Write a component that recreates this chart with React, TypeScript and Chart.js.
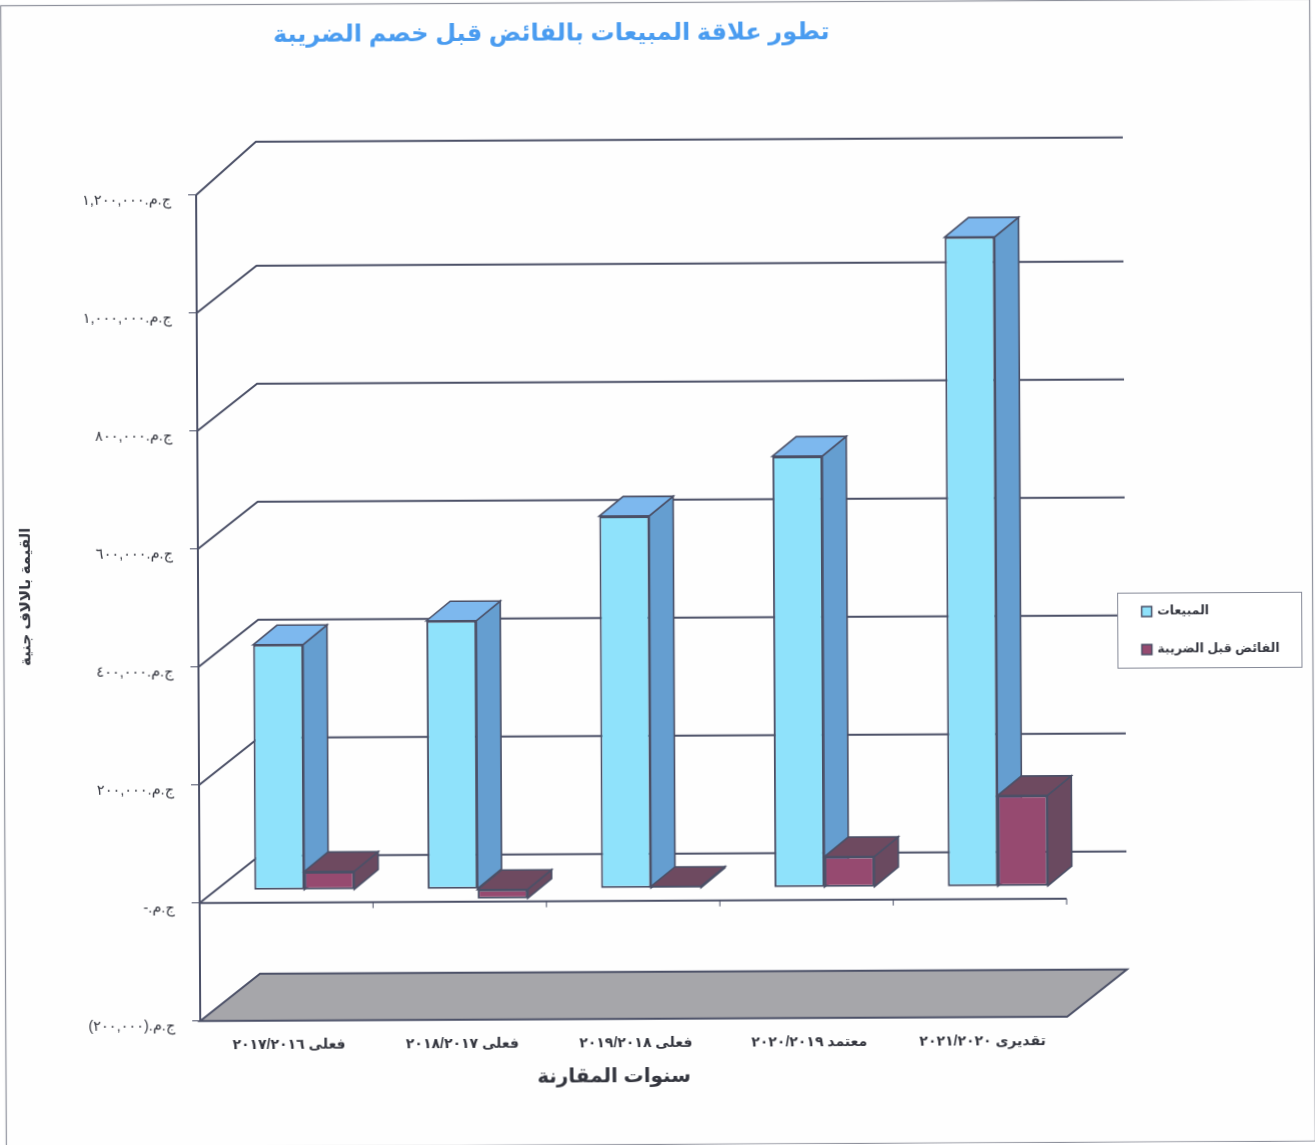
import React, { useEffect, useRef } from "react";
import { Chart, registerables } from "chart.js";

Chart.register(...registerables);

const categories = ["فعلى ٢٠١٧/٢٠١٦", "فعلى ٢٠١٨/٢٠١٧", "فعلى ٢٠١٩/٢٠١٨", "معتمد ٢٠٢٠/٢٠١٩", "تقديرى ٢٠٢١/٢٠٢٠"];
const salesValues = [416000, 455000, 631000, 731000, 1101000];
const surplusValues = [31000, -16000, 3000, 52000, 154000];
const yTickLabels = ["ج.م.(٢٠٠,٠٠٠)", "ج.م.-", "ج.م.٢٠٠,٠٠٠", "ج.م.٤٠٠,٠٠٠", "ج.م.٦٠٠,٠٠٠", "ج.م.٨٠٠,٠٠٠", "ج.م.١,٠٠٠,٠٠٠", "ج.م.١,٢٠٠,٠٠٠"];
const titleText = "تطور علاقة المبيعات بالفائض قبل خصم الضريبة";
const xTitleText = "سنوات المقارنة";
const yTitleText = "القيمة بالالاف جنية";
const salesLabel = "المبيعات";
const surplusLabel = "الفائض قبل الضريبة";

const FONT = "'Liberation Sans', 'DejaVu Sans', sans-serif";
const INK = "#34363f";
const LINE = "#4b5067";
const WALL_DX = 60;
const WALL_DY = 47;
const WALL_DY_TOP = 53;
const GAP_DX = 18;
const GAP_DY = 12.5;
const BAR_DX = 24;
const BAR_DY = 19.5;

const faces = [
  { front: "#8fe2fb", top: "#7db8ee", side: "#659ed0" },
  { front: "#964a70", top: "#6e4a60", side: "#6a4a60" },
];

function poly(ctx: CanvasRenderingContext2D, pts: number[][], fill: string | null, stroke: string, lw: number) {
  ctx.beginPath();
  pts.forEach((p, i) => (i ? ctx.lineTo(p[0], p[1]) : ctx.moveTo(p[0], p[1])));
  ctx.closePath();
  if (fill) {
    ctx.fillStyle = fill;
    ctx.fill();
  }
  ctx.strokeStyle = stroke;
  ctx.lineWidth = lw;
  ctx.stroke();
}

function seg(ctx: CanvasRenderingContext2D, x1: number, y1: number, x2: number, y2: number) {
  ctx.beginPath();
  ctx.moveTo(x1, y1);
  ctx.lineTo(x2, y2);
  ctx.stroke();
}

const scene3d = {
  id: "scene3d",
  afterLayout(chart: any) {
    const tb = chart.titleBlock;
    tb.left = 554 - 400;
    tb.right = 554 + 400;
    const shift = (scale: any, dx: number, dy: number) => {
      if (scale.__shifted) return;
      scale.__shifted = true;
      const orig = scale.drawTitle.bind(scale);
      scale.drawTitle = () => {
        chart.ctx.save();
        chart.ctx.translate(dx, dy);
        orig();
        chart.ctx.restore();
      };
    };
    shift(chart.scales.x, -20, 0);
    shift(chart.scales.y, 0, -12);
  },
  beforeDraw(chart: any) {
    const { ctx, width, height } = chart;
    ctx.save();
    ctx.fillStyle = "#fefefe";
    ctx.fillRect(0, 0, width, height);
    ctx.strokeStyle = "#8e919c";
    ctx.lineWidth = 1.2;
    ctx.strokeRect(3.5, 2.5, width - 6, height - 3);
    ctx.restore();
  },
  beforeDatasetsDraw(chart: any) {
    const { ctx, scales } = chart;
    const { x: xs, y: ys } = scales;
    const left = xs.left;
    const right = xs.right;
    ctx.save();
    ctx.strokeStyle = LINE;
    ctx.lineWidth = 2;
    // floor at the axis minimum
    const floorY = ys.getPixelForValue(ys.min);
    poly(
      ctx,
      [
        [left, floorY],
        [left + WALL_DX, floorY - WALL_DY],
        [right + WALL_DX, floorY - WALL_DY],
        [right, floorY],
      ],
      "#a6a6aa",
      LINE,
      2
    );
    // back wall gridlines with their side-wall diagonals
    ys.ticks.forEach((t: any) => {
      if (t.value === ys.min) return;
      const y = ys.getPixelForValue(t.value);
      const wallDy = t.value === ys.max ? WALL_DY_TOP : WALL_DY;
      ctx.strokeStyle = LINE;
      ctx.lineWidth = 2;
      ctx.beginPath();
      ctx.moveTo(left, y);
      ctx.lineTo(left + WALL_DX, y - wallDy);
      ctx.lineTo(right + WALL_DX, y - wallDy);
      ctx.stroke();
    });
    // zero line with its category ticks
    const y0 = ys.getPixelForValue(0);
    seg(ctx, left, y0, right, y0);
    ctx.lineWidth = 1;
    for (let i = 1; i <= categories.length; i++) {
      const x = left + ((right - left) * i) / categories.length;
      seg(ctx, x, y0, x, y0 + 6);
    }
    ctx.restore();
  },
  beforeDatasetDraw() {
    return false;
  },
  afterDatasetsDraw(chart: any) {
    const { ctx } = chart;
    ctx.save();
    ctx.translate(GAP_DX, -GAP_DY);
    categories.forEach((_, idx) => {
      chart.data.datasets.forEach((ds: any, d: number) => {
        const el = chart.getDatasetMeta(d).data[idx];
        const { x, y, base, width } = el.getProps(["x", "y", "base", "width"], true);
        const l = x - width / 2;
        const r = x + width / 2;
        const t = Math.min(y, base);
        const b = Math.max(y, base);
        const c = faces[d];
        poly(ctx, [[r, t], [r + BAR_DX, t - BAR_DY], [r + BAR_DX, b - BAR_DY], [r, b]], c.side, LINE, 1.6);
        poly(ctx, [[l, t], [l + BAR_DX, t - BAR_DY], [r + BAR_DX, t - BAR_DY], [r, t]], c.top, LINE, 1.6);
        el.draw(ctx);
      });
    });
    ctx.restore();

    // legend box
    ctx.save();
    ctx.fillStyle = "#ffffff";
    ctx.fillRect(1117.5, 595.5, 184, 75);
    ctx.strokeStyle = "#868a98";
    ctx.lineWidth = 1;
    ctx.strokeRect(1117.5, 595.5, 184, 75);
    chart.data.datasets.forEach((ds: any, d: number) => {
      const cy = 614 + d * 38;
      ctx.fillStyle = ds.backgroundColor;
      ctx.strokeStyle = LINE;
      ctx.lineWidth = 1.5;
      ctx.fillRect(1141.5, cy - 5, 10, 10);
      ctx.strokeRect(1141.5, cy - 5, 10, 10);
      ctx.fillStyle = INK;
      ctx.font = `bold 12.5px ${FONT}`;
      ctx.textAlign = "left";
      ctx.textBaseline = "middle";
      ctx.fillText(ds.label, 1157, cy);
    });
    ctx.restore();
  },
};

export default function App() {
  const ref = useRef<HTMLCanvasElement>(null);
  useEffect(() => {
    const chart = new Chart(ref.current as HTMLCanvasElement, {
      type: "bar",
      data: {
        labels: categories,
        datasets: [
          { label: salesLabel, data: salesValues, backgroundColor: faces[0].front, borderColor: LINE, borderWidth: 2, borderSkipped: false },
          { label: surplusLabel, data: surplusValues, backgroundColor: faces[1].front, borderColor: LINE, borderWidth: 2, borderSkipped: false },
        ],
      },
      options: {
        responsive: false,
        animation: false,
        events: [],
        layout: { padding: { left: 0, right: 250, top: 0, bottom: 0 } },
        datasets: { bar: { categoryPercentage: 100 / 173.4, barPercentage: 1 } },
        plugins: {
          legend: { display: false },
          tooltip: { enabled: false },
          title: {
            display: true,
            text: titleText,
            color: "#4a9cf0",
            font: { family: FONT, size: 24, weight: "bold", lineHeight: 1.2 },
            padding: { top: 18.5, bottom: 145.4 },
          },
        },
        scales: {
          x: {
            grid: { display: false },
            border: { display: false },
            ticks: { color: INK, padding: 8, labelOffset: 2, maxRotation: 0, font: { family: FONT, size: 14, weight: "bold" } },
            title: {
              display: true,
              text: xTitleText,
              color: INK,
              font: { family: FONT, size: 20, weight: "bold", lineHeight: 1.2 },
              padding: { top: 0, bottom: 56.5 },
            },
            afterFit(scale: any) {
              scale.height = 126.3;
            },
          },
          y: {
            min: -200000,
            max: 1200000,
            grid: { drawOnChartArea: false, drawTicks: true, tickLength: 8, color: LINE },
            border: { display: true, color: LINE, width: 2 },
            ticks: {
              stepSize: 200000,
              color: INK,
              padding: 17,
              labelOffset: 5,
              font: { family: FONT, size: 14.5 },
              callback: (_v: any, i: number) => yTickLabels[i],
            },
            title: {
              display: true,
              text: yTitleText,
              color: INK,
              font: { family: FONT, size: 15, weight: "bold", lineHeight: 1.2 },
              padding: { top: 17, bottom: 0 },
            },
            afterFit(scale: any) {
              scale.width = 198;
            },
          },
        },
      } as any,
      plugins: [scene3d as any],
    });
    return () => chart.destroy();
  }, []);
  return (
    <canvas
      ref={ref}
      width={1315}
      height={1145}
      dir="rtl"
      style={{
        position: "fixed",
        left: 0,
        top: 0,
        display: "block",
        direction: "rtl",
        width: 1315,
        height: 1145,
        transform: "rotate(-0.286deg)",
        transformOrigin: "50% 50%",
      }}
    />
  );
}
